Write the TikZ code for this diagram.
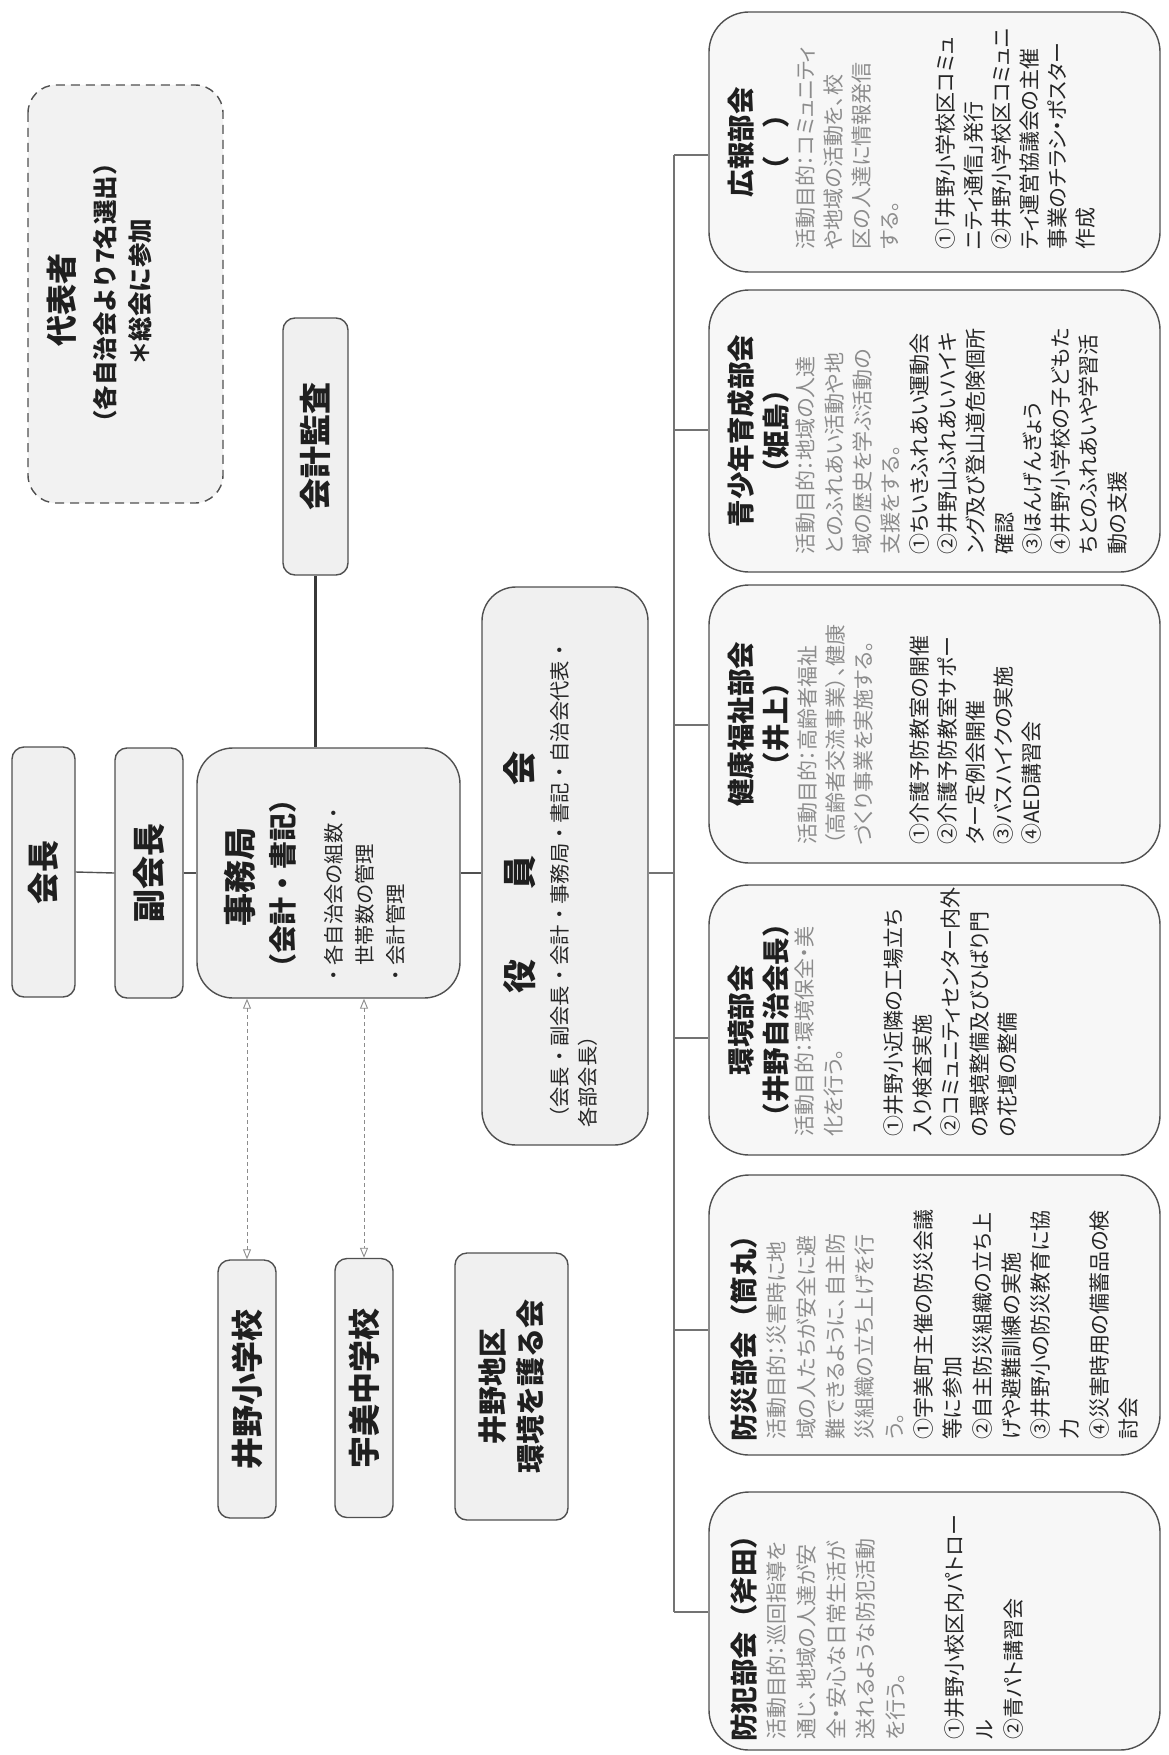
\documentclass[tikz,border=0pt]{standalone}
\usepackage{fontspec}
\setmainfont{Noto Sans CJK JP}
\newfontfamily\jpp[RawFeature=+palt]{Noto Sans CJK JP}
\usetikzlibrary{arrows.meta}
\definecolor{edge}{HTML}{505050}
\definecolor{purp}{HTML}{8C8C8C}
\definecolor{itemc}{HTML}{262626}
\tikzset{
  lbox/.style={draw=edge, line width=1.4pt, fill=black!6, rounded corners=12pt, rotate=90, inner sep=0pt, text=black!88},
  rbox/.style={lbox, rounded corners=36pt},
  dbox/.style={draw=edge, line width=1.4pt, fill=black!3, rounded corners=40pt, rotate=90, inner sep=0pt, minimum height=451pt},
  ttext/.style={rotate=90, inner sep=0pt, align=center, text=black!88},
  dtitle/.style={ttext, font=\bfseries\fontsize{27.5}{29}\selectfont},
  btext/.style={rotate=90, inner sep=0pt, align=left, anchor=north west, text width=280pt},
  dbody/.style={btext, text=purp},
  link/.style={draw=edge, line width=1.4pt},
  tree/.style={draw=black!55, line width=1.2pt},
  dbl/.style={draw=black!45, line width=0.9pt, dash pattern=on 4pt off 3pt, {Triangle[open,length=10pt,width=8pt]}-{Triangle[open,length=10pt,width=8pt]}},
}
\begin{document}
\begin{tikzpicture}[x=1pt,y=-1pt]
\useasboundingbox (0,0) rectangle (1168,1755);
\fill[white] (0,0) rectangle (1168,1755);

% representatives
\node[lbox, dash pattern=on 9pt off 6pt, rounded corners=28pt, minimum width=418pt, minimum height=195pt, fill=black!5] (rep) at (125.5,294) {};
\node[ttext, font=\bfseries\fontsize{31}{31}\selectfont] (repT) at (62,300) {代表者};
\node[ttext, font=\bfseries\fontsize{24.5}{26}\selectfont] (repA) at (105,293) {（各自治会より7名選出）};
\node[ttext, font=\bfseries\fontsize{24.5}{26}\selectfont] (repB) at (140,292) {＊総会に参加};

% audit
\node[lbox, minimum width=257pt, minimum height=65pt, font=\bfseries\fontsize{32}{32}\selectfont] (audit) at (315.5,446.5) {会計監査};

% chain
\node[lbox, minimum width=250pt, minimum height=63pt, font=\bfseries\fontsize{32}{32}\selectfont] (pres) at (43.5,872) {会長};
\node[lbox, minimum width=250pt, minimum height=68pt, font=\bfseries\fontsize{33}{33}\selectfont] (vp) at (149,873) {副会長};
\node[rbox, minimum width=250pt, minimum height=263pt] (office) at (328.5,873) {};
\node[ttext, font=\bfseries\fontsize{33}{33}\selectfont] (officeT) at (240,877) {事務局};
\node[ttext, font=\bfseries\fontsize{28}{28}\selectfont] (officeS) at (283,883) {（会計・書記）};
\node[btext, text width=200pt, font=\fontsize{20.3}{31}\selectfont, text=black!85] (officeB) at (324,986) {・各自治会の組数・\\　世帯数の管理\\・会計管理};

\node[rbox, rounded corners=34pt, minimum width=558pt, minimum height=166pt] (board) at (565,866) {};
\node[ttext, font=\bfseries\fontsize{34}{34}\selectfont] (boardT) at (520,872) {役\hspace{70pt}員\hspace{70pt}会};
\node[btext, text width=500pt, font=\fontsize{20.3}{28}\selectfont, text=black!85] (boardB) at (550,1128) {（会長・副会長・会計・事務局・書記・自治会代表・\\各部会長）};

% schools
\node[lbox, minimum width=258pt, minimum height=58pt, font=\bfseries\fontsize{32}{32}\selectfont] (s1) at (247,1389) {井野小学校};
\node[lbox, minimum width=259pt, minimum height=58pt, font=\bfseries\fontsize{32}{32}\selectfont] (s2) at (364,1388) {宇美中学校};
\node[lbox, minimum width=267pt, minimum height=113pt, align=center, font=\bfseries\fontsize{29}{38}\selectfont] (envg) at (511.5,1386.5) {井野地区\\環境を護る会};

% departments
\node[dbox, minimum width=260pt] (d6) at (934.5,142) {};
\node[dbox, minimum width=282pt] (d5) at (934.5,431) {};
\node[dbox, minimum width=278pt] (d4) at (934.5,724) {};
\node[dbox, minimum width=270pt] (d3) at (934.5,1020) {};
\node[dbox, minimum width=280pt] (d2) at (934.5,1315) {};
\node[dbox, minimum width=258pt] (d1) at (934.5,1621) {};

% 広報
\node[dtitle] (t6a) at (741,142) {広報部会};
\node[dtitle] (t6b) at (776,142) {（　）};
\node[dbody, font=\jpp\fontsize{21}{28}\selectfont] (b6) at (796,250) {活動目的：コミュニティ\\や地域の活動を、校\\区の人達に情報発信\\する。\\[28pt]\color{itemc}①「井野小学校区コミュ\\ニティ通信」発行\\②井野小学校区コミュニ\\ティ運営協議会の主催\\事業のチラシ・ポスター\\作成};

% 青少年
\node[dtitle] (t5a) at (741,431) {青少年育成部会};
\node[dtitle] (t5b) at (776,431) {（姫島）};
\node[dbody, font=\jpp\fontsize{21}{28.3}\selectfont] (b5) at (796,555) {活動目的：地域の人達\\とのふれあい活動や地\\域の歴史を学ぶ活動の\\支援をする。\\\color{itemc}①ちいきふれあい運動会\\②井野山ふれあいハイキ\\ング及び登山道危険個所\\確認\\③ほんげんぎょう\\④井野小学校の子どもた\\ちとのふれあいや学習活\\動の支援};

% 健康福祉
\node[dtitle] (t4a) at (741,724) {健康福祉部会};
\node[dtitle] (t4b) at (776,724) {（井上）};
\node[dbody, font=\jpp\fontsize{21}{28}\selectfont] (b4) at (798,845) {活動目的：高齢者福祉\\（高齢者交流事業）、健康\\づくり事業を実施する。\\[28pt]\color{itemc}①介護予防教室の開催\\②介護予防教室サポー\\ター定例会開催\\③バスハイクの実施\\④AED講習会};

% 環境
\node[dtitle] (t3a) at (741,1020) {環境部会};
\node[dtitle] (t3b) at (776,1020) {（井野自治会長）};
\node[dbody, font=\jpp\fontsize{21}{28.5}\selectfont] (b3) at (795,1137) {活動目的：環境保全・美\\化を行う。\\[32pt]\color{itemc}①井野小近隣の工場立ち\\入り検査実施\\②コミュニティセンター内外\\の環境整備及びひばり門\\の花壇の整備};

% 防災
\node[dtitle, anchor=west] (t2a) at (744,1442) {防災部会（筒丸）};
\node[dbody, font=\jpp\fontsize{21}{29.3}\selectfont] (b2) at (767,1440) {活動目的：災害時に地\\域の人たちが安全に避\\難できるように、自主防\\災組織の立ち上げを行\\う。\\\color{itemc}①宇美町主催の防災会議\\等に参加\\②自主防災組織の立ち上\\げや避難訓練の実施\\③井野小の防災教育に協\\力\\④災害時用の備蓄品の検\\討会};

% 防犯
\node[dtitle, anchor=west] (t1a) at (744,1742) {防犯部会（斧田）};
\node[dbody, font=\jpp\fontsize{21}{29.6}\selectfont] (b1) at (767,1740) {活動目的：巡回指導を\\通じ、地域の人達が安\\全・安心な日常生活が\\送れるような防犯活動\\を行う。\\[29.6pt]\color{itemc}①井野小校区内パトロー\\ル\\②青パト講習会};

% connectors
\draw[draw=black!78, line width=3pt] (audit.west) -- (audit.west |- office.east);
\draw[link] (pres.south) -- (vp.north);
\draw[link] (vp.south) -- (office.north);
\draw[link] (office.south) -- (office.south -| board.north);
\coordinate (tj) at (674,873);
\draw[tree] (tj -| board.south) -- (tj);
\coordinate (c6) at (674,155);
\coordinate (c5) at (674,430);
\coordinate (c4) at (674,725);
\coordinate (c3) at (674,1038);
\coordinate (c2) at (674,1330);
\coordinate (c1) at (674,1612);
\draw[tree] (c6) -- (c1);
\draw[tree] (c6) -- (c6 -| d6.north);
\draw[tree] (c5) -- (c5 -| d5.north);
\draw[tree] (c4) -- (c4 -| d4.north);
\draw[tree] (c3) -- (c3 -| d3.north);
\draw[tree] (c2) -- (c2 -| d2.north);
\draw[tree] (c1) -- (c1 -| d1.north);
\draw[dbl] (s1.east |- office.west) -- (s1.east);
\draw[dbl] (s2.east |- office.west) -- (s2.east);
\end{tikzpicture}
\end{document}
